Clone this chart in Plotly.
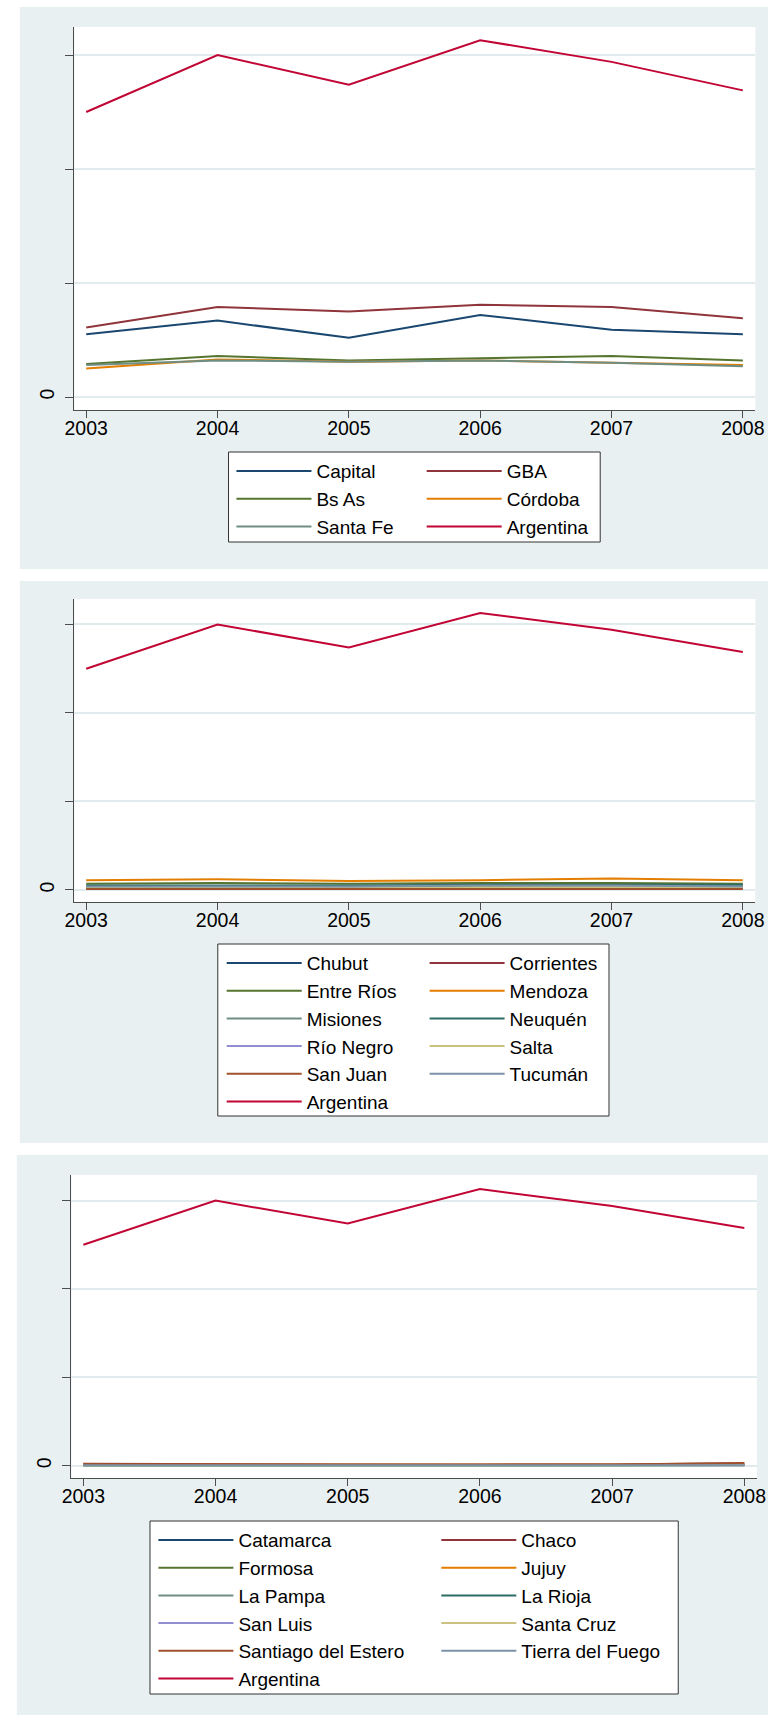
import plotly.graph_objects as go

# ---------------- data ----------------
years = [2003, 2004, 2005, 2006, 2007, 2008]
year_labels = ["2003", "2004", "2005", "2006", "2007", "2008"]
y_ticks = [0, 100, 200, 300]
y_tick_labels = ["0", "", "", ""]

argentina = [250, 300, 274, 313, 294, 269]

# panel 1
capital = [55, 67, 52, 72, 59, 55]
gba = [61, 79, 75, 81, 79, 69]
bs_as = [29, 36, 32, 34, 36, 32]
cordoba = [25, 33, 31, 32, 30, 28]
santa_fe = [28, 32, 31, 32, 30, 27]

# panel 2
chubut = [3, 3, 3, 3, 4, 4]
corrientes = [2, 2, 2, 2, 2, 2]
entre_rios = [7, 8, 7, 8, 8, 7]
mendoza = [11, 12, 10, 11, 13, 11]
misiones = [3, 3, 3, 3, 3, 3]
neuquen = [5, 5, 5, 6, 6, 6]
rio_negro = [2, 2, 2, 2, 3, 2]
salta = [3, 3, 2, 3, 3, 3]
san_juan = [1, 1, 1, 1, 1, 1]
tucuman = [4, 4, 4, 5, 5, 4]

# panel 3
catamarca = [0.6, 0.6, 0.5, 0.6, 0.6, 0.7]
chaco = [2.2, 1.6, 1.2, 1.3, 1.4, 2.8]
formosa = [0.5, 0.5, 0.4, 0.5, 0.5, 0.6]
jujuy = [1.0, 0.9, 0.8, 0.9, 0.9, 1.1]
la_pampa = [0.5, 0.5, 0.5, 0.5, 0.5, 0.6]
la_rioja = [0.4, 0.4, 0.4, 0.4, 0.4, 0.5]
san_luis = [0.7, 0.7, 0.6, 0.9, 0.8, 0.7]
santa_cruz = [0.4, 0.4, 0.4, 0.4, 0.5, 0.5]
santiago = [1.6, 1.2, 1.0, 1.1, 1.3, 3.0]
tierra_fuego = [0.3, 0.3, 0.3, 0.3, 0.3, 0.4]

# ---------------- style ----------------
NAVY, MAROON, GREEN, ORANGE = "#1A476F", "#90353B", "#55752F", "#E37E00"
TEAL, EMERALD, LAVENDER, KHAKI = "#6E8E84", "#2D6D66", "#938DD2", "#CAC27E"
SIENNA, EMIDBLUE, CRANBERRY = "#A0522D", "#7B92A8", "#C10534"
BG = "#E9F0F2"
GRID = "#E1EAED"
AXIS = "#4D4D4D"
FONT = "Liberation Sans, Arial, sans-serif"
W, H = 777, 1715

panels = [
    dict(series=[("Capital", capital, NAVY), ("GBA", gba, MAROON),
                 ("Bs As", bs_as, GREEN), ("Córdoba", cordoba, ORANGE),
                 ("Santa Fe", santa_fe, TEAL), ("Argentina", argentina, CRANBERRY)],
         bg=(10, 7, 777, 569), plot=(66, 27, 764, 410), yrange=[-11.4, 324.6],
         box=(224, 452, 605, 542), cols=(232, 427), row1=471),
    dict(series=[("Chubut", chubut, NAVY), ("Corrientes", corrientes, MAROON),
                 ("Entre Ríos", entre_rios, GREEN), ("Mendoza", mendoza, ORANGE),
                 ("Misiones", misiones, TEAL), ("Neuquén", neuquen, EMERALD),
                 ("Río Negro", rio_negro, LAVENDER), ("Salta", salta, KHAKI),
                 ("San Juan", san_juan, SIENNA), ("Tucumán", tucuman, EMIDBLUE),
                 ("Argentina", argentina, CRANBERRY)],
         bg=(10, 581, 777, 1143), plot=(66, 599, 764, 902), yrange=[-13.6, 328.8],
         box=(213, 944, 614, 1116), cols=(222, 430), row1=963),
    dict(series=[("Catamarca", catamarca, NAVY), ("Chaco", chaco, MAROON),
                 ("Formosa", formosa, GREEN), ("Jujuy", jujuy, ORANGE),
                 ("La Pampa", la_pampa, TEAL), ("La Rioja", la_rioja, EMERALD),
                 ("San Luis", san_luis, LAVENDER), ("Santa Cruz", santa_cruz, KHAKI),
                 ("Santiago del Estero", santiago, SIENNA),
                 ("Tierra del Fuego", tierra_fuego, EMIDBLUE),
                 ("Argentina", argentina, CRANBERRY)],
         bg=(7, 1155, 777, 1715), plot=(63, 1175, 765.6, 1478), yrange=[-14, 329],
         box=(143.5, 1521, 685, 1694), cols=(152, 442), row1=1540),
]

ITEMW = 75
FS = 19

fig = go.Figure()
shapes = []
layout = dict(width=W, height=H, margin=dict(l=0, r=0, t=0, b=0),
              paper_bgcolor="white", plot_bgcolor="white",
              font=dict(family=FONT, size=FS, color="black"))


def px(x):
    return x / W


def py(y):
    return 1 - y / H


for i, p in enumerate(panels):
    n = i + 1
    xa = "x" if n == 1 else f"x{n}"
    ya = "y" if n == 1 else f"y{n}"
    leg_a = "legend" if i == 0 else f"legend{2 * i + 1}"
    leg_b = f"legend{2 * i + 2}"
    for k, (name, vals, col) in enumerate(p["series"]):
        fig.add_trace(go.Scatter(x=years, y=vals, name=name, mode="lines",
                                 line=dict(color=col, width=2),
                                 xaxis=xa, yaxis=ya,
                                 legend=leg_a if k % 2 == 0 else leg_b))
    bx0, by0, bx1, by1 = p["bg"]
    shapes.append(dict(type="rect", xref="paper", yref="paper", layer="below",
                       x0=px(bx0), x1=px(bx1), y0=py(by1), y1=py(by0),
                       fillcolor=BG, line=dict(width=0)))
    lx0, ly0, lx1, ly1 = p["box"]
    shapes.append(dict(type="rect", xref="paper", yref="paper", layer="below",
                       x0=px(lx0), x1=px(lx1), y0=py(ly1), y1=py(ly0),
                       fillcolor="white", line=dict(color="#333333", width=1)))
    x0, y0, x1, y1 = p["plot"]
    layout["xaxis" if n == 1 else f"xaxis{n}"] = dict(
        domain=[px(x0), px(x1)], range=[2002.91, 2008.095], anchor=ya,
        tickvals=years, ticktext=year_labels, ticks="outside", ticklen=7,
        tickcolor=AXIS, showline=True, linecolor=AXIS, linewidth=1,
        showgrid=False, zeroline=False, ticklabelstandoff=-6,
        tickfont=dict(size=19.5, color="black"))
    layout["yaxis" if n == 1 else f"yaxis{n}"] = dict(
        domain=[py(y1), py(y0)], range=p["yrange"], anchor=xa,
        tickvals=y_ticks, ticktext=y_tick_labels, tickangle=-90,
        ticks="outside", ticklen=8, tickcolor=AXIS, showline=True,
        linecolor=AXIS, linewidth=1, showgrid=True, gridcolor=GRID,
        gridwidth=1.5, zeroline=False, ticklabelstandoff=4,
        tickfont=dict(size=19.5, color="black"))
    top = p["row1"] - 5 - (1.3 * FS + 3) / 2
    for leg, cx in ((leg_a, p["cols"][0]), (leg_b, p["cols"][1])):
        layout[leg] = dict(x=px(cx - 5), y=py(top), xanchor="left", yanchor="top",
                           xref="paper", yref="paper", orientation="v",
                           bgcolor="rgba(0,0,0,0)", borderwidth=0,
                           itemwidth=ITEMW, font=dict(family=FONT, size=FS, color="black"),
                           traceorder="normal")

# white plot regions above the panel backgrounds
for i, p in enumerate(panels):
    n = i + 1
    xa = "x" if n == 1 else f"x{n}"
    ya = "y" if n == 1 else f"y{n}"
    shapes.append(dict(type="rect", xref=f"{xa} domain", yref=f"{ya} domain",
                       layer="below", x0=0, x1=1, y0=0, y1=1,
                       fillcolor="white", line=dict(width=0)))

layout["shapes"] = shapes
layout["showlegend"] = True
fig.update_layout(**layout)
fig.write_html("out.html", config={"displayModeBar": False},
               post_script="document.body.style.margin='0';")
